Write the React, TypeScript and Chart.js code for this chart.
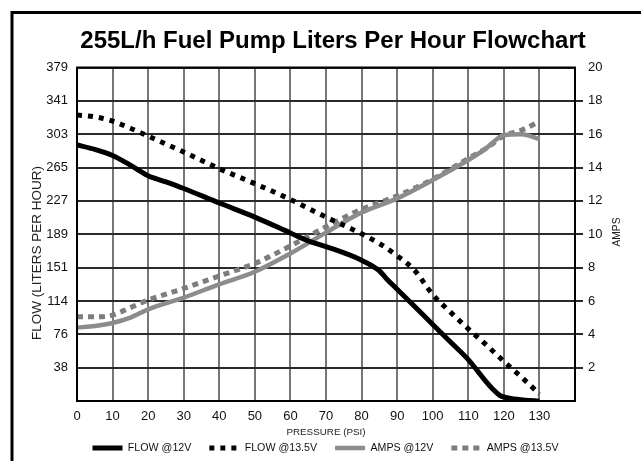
import React, { useEffect, useRef } from 'react';
import { Chart, registerables } from 'chart.js';

Chart.register(...registerables);

const TITLE = '255L/h Fuel Pump Liters Per Hour Flowchart';
const X_TITLE = 'PRESSURE (PSI)';
const Y_LEFT_TITLE = 'FLOW (LITERS PER HOUR)';
const Y_RIGHT_TITLE = 'AMPS';
const SERIES_NAMES = ['FLOW @12V', 'FLOW @13.5V', 'AMPS @12V', 'AMPS @13.5V'];

const LEFT_TICK_LABELS = ['', '38', '76', '114', '151', '189', '227', '265', '303', '341', '379'];
const FLOW_MAX = 379;
const FLOW_STEP = 37.9;
const AMPS_MAX = 20;
const AMPS_STEP = 2;
const PSI_MAX = 140;
const PSI_STEP = 10;

const PSI_FLOW_12 = [0, 5, 10, 15, 20, 25, 30, 40, 50, 60, 65, 70, 80, 85, 87, 90, 95, 100, 105, 110, 115, 117, 119, 122, 126, 130];
const FLOW_12 = [291, 286, 279, 268, 256, 249, 241.5, 225, 209, 191, 182, 175.5, 160, 148, 139, 127, 107, 87, 67, 47, 22, 13, 6, 3, 1, 0];

const PSI_FLOW_135 = [0, 5, 10, 15, 20, 30, 40, 50, 60, 70, 80, 85, 90, 95, 100, 105, 110, 115, 120, 125, 130];
const FLOW_135 = [325, 323, 318, 310, 301, 283, 264, 247, 229, 209, 190, 179, 165, 148, 121, 101, 82, 64, 45, 27, 8];

const PSI_AMPS_12 = [0, 5, 10, 15, 20, 30, 40, 50, 60, 70, 80, 90, 100, 110, 115, 118, 120, 125, 130];
const AMPS_12 = [4.4, 4.5, 4.68, 5.0, 5.5, 6.2, 7.0, 7.75, 8.85, 10.1, 11.3, 12.15, 13.25, 14.45, 15.15, 15.7, 15.95, 16.0, 15.7];

const PSI_AMPS_135 = [0, 5, 10, 15, 20, 30, 40, 50, 60, 70, 80, 90, 100, 110, 115, 120, 125, 130];
const AMPS_135 = [5.05, 5.05, 5.15, 5.6, 6.05, 6.75, 7.5, 8.25, 9.3, 10.45, 11.5, 12.3, 13.3, 14.55, 15.15, 15.9, 16.25, 16.75];

const SANS = "'Liberation Sans', Arial, sans-serif";

const zip = (xs: number[], ys: number[]) => xs.map((x, i) => ({ x, y: ys[i] }));

function hasFont(name: string): boolean {
  const c = document.createElement('canvas').getContext('2d');
  if (!c) return false;
  const s = 'FLOW @12V PRESSURE abcxyz';
  c.font = '20px monospace';
  const a = c.measureText(s).width;
  c.font = `20px '${name}', monospace`;
  const b = c.measureText(s).width;
  return Math.abs(a - b) > 0.5;
}

export default function App() {
  const ref = useRef<HTMLCanvasElement | null>(null);

  useEffect(() => {
    if (!ref.current) return;
    const narrowOk = hasFont('Liberation Sans Narrow');
    const NARROW = narrowOk ? "'Liberation Sans Narrow', sans-serif" : SANS;
    const k = narrowOk ? 1 : 0.82;
    const legendSize = 13 * k;
    const xTitleSize = 12 * k;
    const ampsTitleSize = 12.5 * k;
    const legendPad = 18;
    const legendTop = 448 - legendPad - legendSize / 2;
    const xTitleLH = xTitleSize * 1.2;

    const decorPlugin = {
      id: 'decor',
      beforeDraw(chart: any) {
        const { ctx, width, height } = chart;
        ctx.save();
        ctx.fillStyle = '#fff';
        ctx.fillRect(0, 0, width, height);
        ctx.strokeStyle = '#000';
        ctx.lineWidth = 3;
        ctx.beginPath();
        ctx.moveTo(12, height + 5);
        ctx.lineTo(12, 12.5);
        ctx.lineTo(width + 5, 12.5);
        ctx.stroke();
        ctx.restore();
      },
      afterDraw(chart: any) {
        const { ctx, chartArea } = chart;
        ctx.save();
        ctx.strokeStyle = '#000';
        ctx.lineWidth = 2;
        ctx.strokeRect(chartArea.left, chartArea.top, chartArea.right - chartArea.left, chartArea.bottom - chartArea.top);

        ctx.fillStyle = '#000';
        ctx.font = `bold 24px ${SANS}`;
        ctx.textAlign = 'center';
        ctx.textBaseline = 'middle';
        ctx.fillText(TITLE, 333, 41);

        ctx.fillStyle = '#222';
        ctx.font = `13.5px ${SANS}`;
        ctx.translate(37, 253);
        ctx.rotate(-Math.PI / 2);
        ctx.fillText(Y_LEFT_TITLE, 0, 0);
        ctx.restore();

        ctx.save();
        ctx.fillStyle = '#222';
        ctx.font = `${ampsTitleSize}px ${NARROW}`;
        ctx.textAlign = 'center';
        ctx.textBaseline = 'middle';
        ctx.translate(617, 232);
        ctx.rotate(-Math.PI / 2);
        ctx.fillText(Y_RIGHT_TITLE, 0, 0);
        ctx.restore();
      },
    };

    const chart = new Chart(ref.current, {
      type: 'line',
      data: {
        datasets: [
          {
            label: SERIES_NAMES[0],
            data: zip(PSI_FLOW_12, FLOW_12),
            yAxisID: 'yFlow',
            borderColor: '#000',
            backgroundColor: '#000',
            borderWidth: 5,
          },
          {
            label: SERIES_NAMES[1],
            data: zip(PSI_FLOW_135, FLOW_135),
            yAxisID: 'yFlow',
            borderColor: '#000',
            backgroundColor: '#000',
            borderWidth: 5,
            borderDash: [5, 6],
          },
          {
            label: SERIES_NAMES[2],
            data: zip(PSI_AMPS_12, AMPS_12),
            yAxisID: 'yAmps',
            borderColor: '#8c8c8c',
            backgroundColor: '#8c8c8c',
            borderWidth: 4.5,
          },
          {
            label: SERIES_NAMES[3],
            data: zip(PSI_AMPS_135, AMPS_135),
            yAxisID: 'yAmps',
            borderColor: '#7d7d7d',
            backgroundColor: '#7d7d7d',
            borderWidth: 5,
            borderDash: [6, 5],
          },
        ],
      },
      options: {
        animation: false,
        responsive: false,
        events: [],
        elements: {
          point: { radius: 0 },
          line: { cubicInterpolationMode: 'monotone', fill: false, borderCapStyle: 'butt' },
        },
        layout: { padding: { left: 10, right: 0, top: 67.5, bottom: 0 } },
        plugins: {
          tooltip: { enabled: false },
          title: { display: false },
          legend: {
            position: 'bottom',
            maxHeight: 461 - legendTop,
            labels: {
              usePointStyle: true,
              pointStyle: 'line',
              pointStyleWidth: 30,
              padding: legendPad,
              color: '#111',
              font: { family: NARROW, size: legendSize },
              generateLabels: (ch: any) => {
                const items = (Chart.defaults as any).plugins.legend.labels.generateLabels(ch);
                items.forEach((it: any) => {
                  const ds = ch.data.datasets[it.datasetIndex];
                  it.lineDash = ds.borderDash || [];
                  it.lineWidth = ds.borderWidth;
                  it.strokeStyle = ds.borderColor;
                  it.lineCap = 'butt';
                });
                return items;
              },
            },
          },
        },
        scales: {
          x: {
            type: 'linear',
            min: 0,
            max: PSI_MAX,
            ticks: {
              stepSize: PSI_STEP,
              maxTicksLimit: 30,
              autoSkip: false,
              maxRotation: 0,
              padding: 8,
              color: '#111',
              font: { family: SANS, size: 13 },
              callback: (v: any) => (v === PSI_MAX ? '' : String(v)),
            },
            grid: { color: '#777', lineWidth: 2, drawTicks: false },
            border: { display: false },
            title: {
              display: true,
              text: X_TITLE,
              color: '#222',
              font: { family: NARROW, size: xTitleSize },
              padding: { top: 0, bottom: legendTop - 432 - xTitleLH / 2 },
            },
            afterFit: (s: any) => {
              s.height = legendTop - 401;
            },
          },
          yFlow: {
            type: 'linear',
            position: 'left',
            min: 0,
            max: FLOW_MAX,
            ticks: {
              stepSize: FLOW_STEP,
              padding: 9,
              color: '#111',
              font: { family: SANS, size: 13 },
              callback: (_v: any, i: number) => LEFT_TICK_LABELS[i] ?? '',
            },
            grid: { color: '#2a2a2a', lineWidth: 2, drawTicks: false },
            border: { display: false },
            afterFit: (s: any) => {
              s.width = 67;
            },
          },
          yAmps: {
            type: 'linear',
            position: 'right',
            min: 0,
            max: AMPS_MAX,
            ticks: {
              stepSize: AMPS_STEP,
              padding: 5,
              color: '#111',
              font: { family: SANS, size: 13 },
              callback: (v: any) => (v === 0 ? '' : String(v)),
            },
            grid: {
              drawOnChartArea: false,
              drawTicks: true,
              tickLength: 8,
              lineWidth: 2,
              color: '#2a2a2a',
              tickColor: (c: any) => (c.tick && (c.tick.value === 0 || c.tick.value === AMPS_MAX) ? 'rgba(0,0,0,0)' : '#2a2a2a'),
            },
            border: { display: false },
            afterFit: (s: any) => {
              s.width = 66;
            },
          },
        },
      } as any,
      plugins: [decorPlugin],
    });
    return () => chart.destroy();
  }, []);

  return (
    <div style={{ position: 'fixed', left: 0, top: 0, width: 641, height: 461, background: '#fff' }}>
      <canvas ref={ref} width={641} height={461} style={{ display: 'block', width: 641, height: 461 }} />
    </div>
  );
}
